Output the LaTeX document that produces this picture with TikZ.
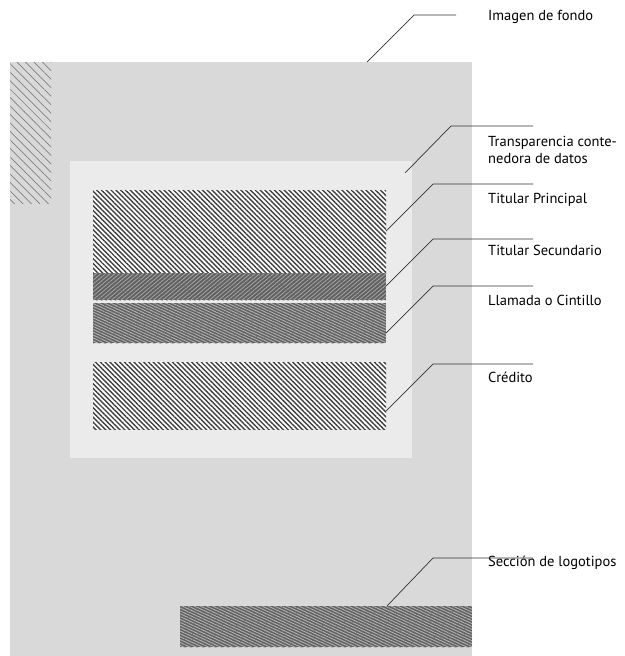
\documentclass[tikz,border=0pt]{standalone}
\usepackage{fontspec}
\setmainfont{PT Sans}
\usetikzlibrary{patterns.meta}
\definecolor{fondo}{HTML}{D9D9D9}
\definecolor{velo}{HTML}{EBEBEB}
\tikzset{
  rotulo/.style={anchor=base west, inner sep=0pt, align=left,
    font=\fontsize{14.5}{16.3}\selectfont},
  guia/.style={line width=0.7pt, black!80},
  rayado/.style={preaction={fill=white},
    pattern={Lines[angle=-45,distance=3.4pt,line width=1.4pt]}, pattern color=black!75},
  rayadoclaro/.style={preaction={fill=fondo},
    pattern={Lines[angle=-45,distance=6pt,line width=0.7pt]}, pattern color=black!50},
  oscuro/.style={preaction={fill=black!62},
    pattern={Lines[angle=40,distance=3pt,line width=0.8pt]}, pattern color=black!35},
  trama/.style={preaction={fill=black!62},
    pattern={Lines[angle=-25,distance=2.6pt,line width=0.9pt]}, pattern color=black!30}
}
\begin{document}
\begin{tikzpicture}[x=1pt,y=-1pt]
  \useasboundingbox (0,0) rectangle (624,656);
  % areas
  \fill[fondo] (10,62) rectangle (472,656);
  \path[rayadoclaro] (10,62) rectangle (51,203);
  \fill[velo] (70,161) rectangle (412,458);
  \path[rayado] (93,190) rectangle (386,273);
  \path[oscuro] (93,273) rectangle (386,300);
  \path[trama] (93,303) rectangle (386,343);
  \path[rayado] (93,362) rectangle (386,429);
  \path[trama] (180,606) rectangle (472,647);
  % labels
  \draw
    (488,20.5) node[rotulo] (imagen){Imagen de fondo}
    (488,163) node[rotulo] (transp){Transparencia conte-\\nedora de datos}
    (488,203.5) node[rotulo] (tprin){Titular Principal}
    (488,255) node[rotulo] (tsec){Titular Secundario}
    (488,305) node[rotulo] (llamada){Llamada o Cintillo}
    (488,382.5) node[rotulo] (credito){Crédito}
    (488,566.5) node[rotulo] (logos){Sección de logotipos};
  % leader points
  \coordinate (a0) at (367,62);   \coordinate (b0) at (414,15);  \coordinate (c0) at (456,15);
  \coordinate (a1) at (405,173);  \coordinate (b1) at (451,126); \coordinate (c1) at (533,126);
  \coordinate (a2) at (386,231);  \coordinate (b2) at (433,184); \coordinate (c2) at (533,184);
  \coordinate (a3) at (386,286);  \coordinate (b3) at (433,239); \coordinate (c3) at (533,239);
  \coordinate (a4) at (386,333);  \coordinate (b4) at (433,286); \coordinate (c4) at (533,286);
  \coordinate (a5) at (386,411);  \coordinate (b5) at (433,364); \coordinate (c5) at (533,364);
  \coordinate (a6) at (387,606);  \coordinate (b6) at (433,558); \coordinate (c6) at (533,558);
  \begin{scope}[guia]
    \foreach \i in {0,...,6}
      \draw (a\i) -- (b\i) -- (c\i);
  \end{scope}
\end{tikzpicture}
\end{document}
